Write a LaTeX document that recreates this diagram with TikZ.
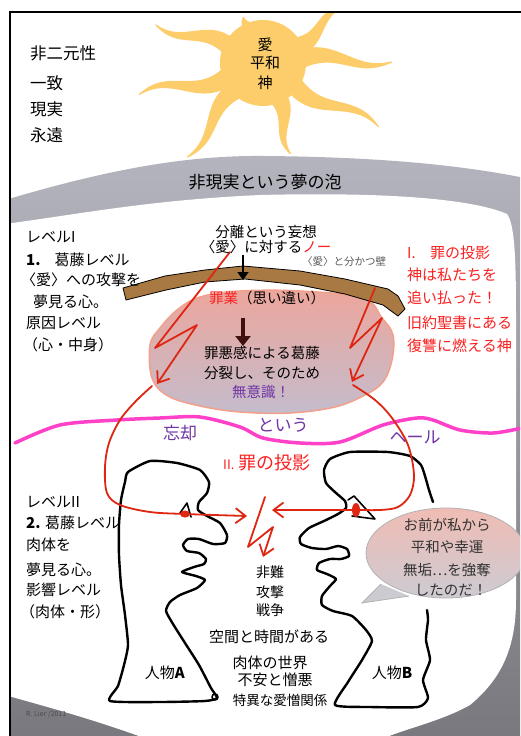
\documentclass[tikz,border=0pt]{standalone}
\usepackage{fontspec}
\setmainfont{Noto Sans CJK JP}
\usetikzlibrary{arrows.meta}
\definecolor{sinred}{RGB}{222,38,18}
\definecolor{txtred}{RGB}{250,32,32}
\definecolor{veilpink}{RGB}{255,64,200}
\definecolor{veilviolet}{RGB}{112,52,165}
\definecolor{sunfill}{RGB}{253,205,108}
\definecolor{wallbrown}{RGB}{168,121,66}
\definecolor{blobtop}{RGB}{236,166,156}
\definecolor{blobbot}{RGB}{196,188,204}
\definecolor{bloblin}{RGB}{242,160,140}
\definecolor{bubtop}{RGB}{240,188,180}
\definecolor{bubbot}{RGB}{205,203,210}
\definecolor{bandtop}{RGB}{180,180,190}
\definecolor{bandmid}{RGB}{238,238,240}
\definecolor{bandbot}{RGB}{120,120,126}
\definecolor{guilt}{RGB}{64,16,16}
\newcommand\fsz[1]{\fontsize{#1}{#1}\selectfont}
% one wavy, tapering sun ray: #1 = direction, #2 = length, #3 = wave amplitude
\newcommand\sunray[3]{%
  \fill[sunfill,shift={(263,63)},rotate=#1]
    plot[domain=30:#2,samples=40,smooth]
      (\x,{#3*sin((\x-30)/(#2-30)*330)-(10*(1-(\x-30)/(#2-30))+0.6)})
    -- plot[domain=#2:30,samples=40,smooth]
      (\x,{#3*sin((\x-30)/(#2-30)*330)+(10*(1-(\x-30)/(#2-30))+0.6)})
    -- cycle;}

\begin{document}
\begin{tikzpicture}[x=1pt,y=-1pt,
  lbl/.style={inner sep=0pt,font=\fsz{15}},
  lw/.style={lbl,anchor=west},
  redtxt/.style={lw,text=txtred},
  veil/.style={inner sep=0pt,font=\fsz{17},text=veilviolet},
  redline/.style={sinred,line width=1.8pt,line join=round,line cap=round},
  redbarb/.style={-{Straight Barb[length=10pt,width=15pt]}},
  face/.style={black,line width=2.4pt,line join=round,line cap=round},
  bubbletxt/.style={inner sep=0pt,font=\fsz{14.5},text=black!80}]
\useasboundingbox (0,0) rectangle (520,736);

\begin{scope}
\clip (11,13) rectangle (520,736);
% grey dream bubble and the white world inside it
\shade[top color=bandtop,middle color=bandmid,bottom color=bandbot]
  (5,200) .. controls (100,172) and (180,155) .. (265,156)
  .. controls (380,157) and (460,165) .. (525,178) -- (525,740) -- (5,740) -- cycle;
\fill[white] (5,224) .. controls (80,214) and (150,200) .. (260,195)
  .. controls (380,192) and (470,198) .. (507,214)
  .. controls (515,225) and (516,260) .. (516,320) -- (516,600)
  .. controls (516,650) and (500,680) .. (470,705)
  .. controls (440,722) and (400,730) .. (380,740) -- (150,740)
  .. controls (90,718) and (40,705) .. (5,695) -- cycle;

% sun
\sunray{158.9}{114}{6}
\sunray{195.9}{128}{-7}
\sunray{229.7}{121}{6}
\sunray{288.4}{95}{-5}
\sunray{329.6}{132}{7}
\sunray{1.8}{129}{-6}
\sunray{32.5}{100}{6}
\sunray{112}{50}{2}
\fill[sunfill] (263,63) circle (43);

% guilt cloud
\shadedraw[top color=blobtop,bottom color=blobbot,draw=bloblin,line width=1.5pt]
  plot[smooth cycle,tension=0.6] coordinates {(177,310) (200,297) (240,291) (300,291)
  (363,298) (382,318) (393,335) (392,360) (383,382) (365,395) (335,407) (290,413)
  (240,412) (200,406) (168,396) (152,378) (150,345) (160,328)};

% the wall that separates from love
\filldraw[fill=wallbrown,draw=black,line width=0.8pt]
  (123,288) -- (165,276) -- (205,270) -- (243,266) -- (300,271) -- (345,279)
  -- (388,289) -- (398,296) -- (405,309) -- (398,316) -- (383,305) -- (345,294)
  -- (300,285) -- (245,279) -- (205,282) -- (166,290) -- (126,300) -- cycle;

% veil of forgetting
\draw[veilpink,line width=3.5pt,line cap=round] plot[smooth,tension=0.5] coordinates {
  (15,443) (60,425) (117,420) (160,418) (200,417) (240,427) (263,438) (300,443)
  (340,442) (383,425) (417,418) (433,420) (460,430) (493,433) (522,428)};

% person A
\draw[face] plot[smooth cycle,tension=0.35] coordinates {
  (128,472) (150,461) (177,463) (200,470) (209,482) (207,493) (199,502) (198,510)
  (207,516) (220,523) (227,535) (225,543) (213,544) (199,539) (188,539) (183,545)
  (187,551) (199,553) (206,559) (204,564) (194,567) (182,572) (196,576) (205,580)
  (197,588) (180,595) (170,602) (166,611) (173,624) (185,643) (199,665) (211,688)
  (217,698) (205,701) (160,702) (110,701) (118,686) (124,665) (128,645) (125,615)
  (121,585) (119,555) (119,525) (121,500) (125,482)};
\draw[face,line width=1.6pt] (180,513) -- (187,503) -- (191,517);
\draw[face,line width=1.6pt] (215,697) circle (3);

% person B
\draw[face] plot[smooth,tension=0.35] coordinates {
  (433,502) (429,490) (425,476) (421,465) (410,456) (388,452) (350,452) (330,459)
  (324,470) (326,483) (336,493) (345,501) (346,508) (338,514) (324,521) (309,528)
  (300,537) (301,544) (312,548) (326,549) (338,546) (347,549) (349,556) (341,559)
  (330,559) (319,563) (317,570) (327,574) (336,579) (330,586) (322,596) (322,605)
  (333,611) (352,616) (366,630) (372,641) (362,660) (348,682) (335,705) (370,707)
  (418,707) (428,698) (423,680) (430,660) (426,640) (428,620) (427,610)};
\draw[face,line width=1.6pt] (348,500) -- (354,496) -- (375,519) -- (352,516);

% speech bubble of person B
\shadedraw[top color=bubtop,bottom color=bubbot,draw=black!30,line width=0.8pt]
  (446,553) ellipse (80 and 45);
\fill[bubbot] (381,584) -- (362,603) -- (409,596) -- cycle;
\draw[black!30,line width=0.8pt] (381,584) -- (362,603) -- (409,596);

% named end points of the projection arrows
\coordinate (eyeA) at (185,514);
\coordinate (eyeB) at (356,510);
\coordinate (hitA) at (247,516);
\coordinate (hitB) at (272,510);

% I. projection of sin, upper left and right
\draw[redline,redbarb] (230,252) -- (155,348) -- (197,325) -- (157,384);
\draw[redline,redbarb] (375,288) -- (350,348) -- (382,318) -- (352,382);
% II. projection of sin, through the eyes
\draw[redline,redbarb] plot[smooth,tension=0.55] coordinates {
  (152,386) (135,402) (120,420) (109,443) (105,467) (107,493) (120,505) (150,512)
  (eyeA) (hitA)};
\draw[redline,redbarb] plot[smooth,tension=0.55] coordinates {
  (353,385) (375,400) (392,418) (408,445) (414,475) (410,495) (398,507) (380,510)
  (eyeB) (hitB)};
\draw[redline,redbarb] (265,497) -- (248,547) -- (273,527) -- (263,557);
\fill[sinred] (eyeA) ellipse (5 and 3.5);
\fill[sinred] (eyeB) ellipse (4 and 7);

% downward arrows in the centre
\draw[black,line width=1.8pt,-{Triangle[length=8pt,width=11pt]}] (243,255) -- (243,280);
\draw[guilt,line width=4pt,-{Triangle[length=10pt,width=15pt]}] (243,318) -- (243,346);
\end{scope}

% frame
\draw[line width=2pt] (10,737) -- (10,12) -- (521,12);

% texts: reality of love
\node[lw,font=\fsz{16.5}] (nondual) at (30,53) {非二元性};
\node[lw,font=\fsz{16.5}] (oneness) at (30,83) {一致};
\node[lw,font=\fsz{16.5}] (reality) at (30,109) {現実};
\node[lw,font=\fsz{16.5}] (eternal) at (30,135) {永遠};
\node[lbl] (sunlove) at (265,45) {愛};
\node[lbl] (sunpeace) at (265,63) {平和};
\node[lbl] (sungod) at (265,83) {神};
\node[lbl,font=\fsz{17}] (dream) at (265,182) {非現実という夢の泡};

% level I
\node[lw] (lv1) at (26,237) {レベルI};
\node[lw] (lv1a) at (26,260) {\textbf{1.}\hspace{14pt}葛藤レベル};
\node[lw] (lv1b) at (21,280) {〈愛〉への攻撃を};
\node[lw] (lv1c) at (33,302) {夢見る心。};
\node[lw] (lv1d) at (26,323) {原因レベル};
\node[lw] (lv1e) at (23,345) {（心・中身）};

\node[lbl,font=\fsz{14.5}] (sep1) at (266,232) {分離という妄想};
\node[lbl,font=\fsz{14.5}] (sep2) at (266,247) {〈愛〉に対する\textcolor{txtred}{ノー}};
\node[lbl,font=\fsz{10.5},text=black!65] (wall) at (344,262) {〈愛〉と分かつ壁};
\node[lbl,font=\fsz{14.5}] (karma) at (267,298) {\textcolor{txtred}{罪業}（思い違い）};
\node[lbl,font=\fsz{14.5}] (guilt1) at (262,353) {罪悪感による葛藤};
\node[lbl,font=\fsz{14.5}] (guilt2) at (262,373) {分裂し、そのため};
\node[lbl,font=\fsz{14.5},text=veilviolet] (uncon) at (261,392) {無意識！};

\node[redtxt] (proj1) at (407,253) {I.};
\node[redtxt] (proj1b) at (430,253) {罪の投影};
\node[redtxt] (proj2) at (407,275) {神は私たちを};
\node[redtxt] (proj3) at (407,298) {追い払った！};
\node[redtxt] (proj4) at (407,323) {旧約聖書にある};
\node[redtxt] (proj5) at (407,346) {復讐に燃える神};

% the veil
\node[veil] (forget) at (180,433) {忘却};
\node[veil] (called) at (283,425) {という};
\node[veil] (veilw) at (415,437) {ヘール};
\node[lbl,anchor=west,text=txtred] (proj2t) at (223,463)
  {{\fsz{13}II.}\hspace{4pt}{\fsz{18}罪の投影}};

% level II
\node[lw] (lv2) at (26,502) {レベルII};
\node[lw] (lv2a) at (26,523) {\textbf{2.} 葛藤レベル};
\node[lw] (lv2b) at (26,545) {肉体を};
\node[lw] (lv2c) at (26,570) {夢見る心。};
\node[lw] (lv2d) at (26,590) {影響レベル};
\node[lw] (lv2e) at (20,612) {（肉体・形）};

\node[lbl,font=\fsz{14}] (blame) at (270,572) {非難};
\node[lbl,font=\fsz{14}] (attack) at (270,592) {攻撃};
\node[lbl,font=\fsz{14}] (war) at (270,610) {戦争};
\node[lbl] (spacetime) at (269,637) {空間と時間がある};
\node[lbl] (bodyw) at (270,663) {肉体の世界};
\node[lbl] (fear) at (275,680) {不安と憎悪};
\node[lbl,font=\fsz{13.5}] (special) at (280,700) {特異な愛憎関係};
\node[lbl] (persA) at (165,673) {人物\textbf{A}};
\node[lbl] (persB) at (392,673) {人物\textbf{B}};

\node[bubbletxt] (say1) at (447,525) {お前が私から};
\node[bubbletxt] (say2) at (447,547) {平和や幸運};
\node[bubbletxt] (say3) at (447,570) {無垢…を強奪};
\node[bubbletxt] (say4) at (451,590) {したのだ！};

\node[lw,font=\fsz{7},text=black!70] (author) at (26,714) {R. Lier /2011};
\end{tikzpicture}
\end{document}
